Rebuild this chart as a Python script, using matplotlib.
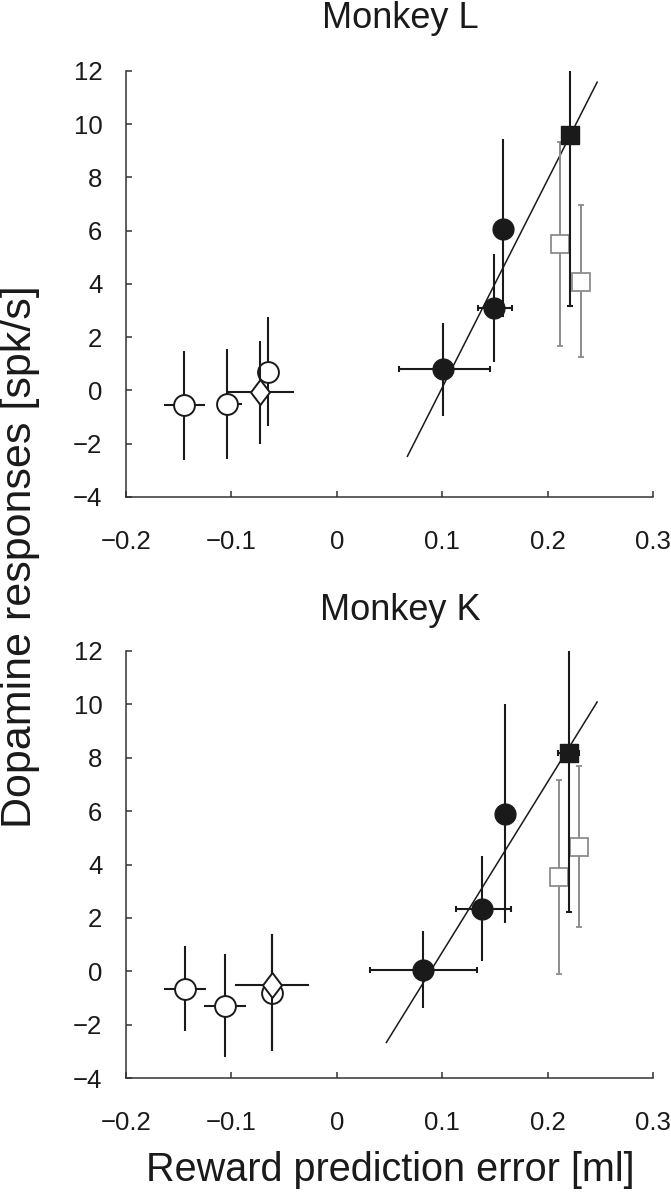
import matplotlib
matplotlib.use("Agg")
import matplotlib.pyplot as plt
import numpy as np
from matplotlib.path import Path

plt.rcParams["font.family"] = ["Liberation Sans", "DejaVu Sans"]

# ---- Monkey L ----
L_open_x = [-0.145, -0.104, -0.065]
L_open_y = [-0.56, -0.50, 0.71]
L_open_ylo = [-2.62, -2.56, -1.35]
L_open_yhi = [1.50, 1.56, 2.75]
L_open_xlo = [-0.164, -0.113, -0.065]
L_open_xhi = [-0.125, -0.090, -0.065]

L_dia_x = [-0.073]
L_dia_y = [-0.06]
L_dia_ylo = [-2.00]
L_dia_yhi = [1.87]
L_dia_xlo = [-0.104]
L_dia_xhi = [-0.041]

L_fill_x = [0.101, 0.149, 0.158]
L_fill_y = [0.79, 3.08, 6.06]
L_fill_ylo = [-0.94, 1.06, 2.75]
L_fill_yhi = [2.52, 5.12, 9.43]
L_fill_xlo = [0.059, 0.134, 0.158]
L_fill_xhi = [0.145, 0.166, 0.158]

L_sq_x = [0.2215]
L_sq_y = [9.59]
L_sq_ylo = [3.18]
L_sq_yhi = [16.0]

L_gray_x = [0.2115, 0.2318]
L_gray_y = [5.49, 4.09]
L_gray_ylo = [1.66, 1.25]
L_gray_yhi = [9.33, 6.97]

L_fit_x = [0.067, 0.247]
L_fit_y = [-2.47, 11.58]

# ---- Monkey K ----
K_open_x = [-0.144, -0.106, -0.0615]
K_open_y = [-0.65, -1.30, -0.81]
K_open_ylo = [-2.25, -3.21, -2.98]
K_open_yhi = [0.94, 0.64, 1.41]
K_open_xlo = [-0.164, -0.126, -0.0615]
K_open_xhi = [-0.124, -0.086, -0.0615]

K_dia_x = [-0.0615]
K_dia_y = [-0.52]
K_dia_ylo = [-2.98]
K_dia_yhi = [1.41]
K_dia_xlo = [-0.097]
K_dia_xhi = [-0.026]

K_fill_x = [0.082, 0.138, 0.1595]
K_fill_y = [0.06, 2.35, 5.91]
K_fill_ylo = [-1.37, 0.37, 1.81]
K_fill_yhi = [1.51, 4.32, 10.0]
K_fill_xlo = [0.0315, 0.113, 0.1595]
K_fill_xhi = [0.133, 0.165, 0.1595]

K_sq_x = [0.220]
K_sq_y = [8.17]
K_sq_ylo = [2.22]
K_sq_yhi = [14.1]
K_sq_xlo = [0.210]
K_sq_xhi = [0.230]

K_gray_x = [0.2104, 0.2301]
K_gray_y = [3.54, 4.66]
K_gray_ylo = [-0.09, 1.66]
K_gray_yhi = [7.15, 7.68]
K_gray_xlo = [0.2034, 0.2231]
K_gray_xhi = [0.2174, 0.2371]

K_fit_x = [0.047, 0.247]
K_fit_y = [-2.67, 10.09]

x_ticks = [-0.2, -0.1, 0, 0.1, 0.2, 0.3]
x_ticklabels = ["\u22120.2", "\u22120.1", "0", "0.1", "0.2", "0.3"]
y_ticks = [-4, -2, 0, 2, 4, 6, 8, 10, 12]
y_ticklabels = ["\u22124", "\u22122", "0", "2", "4", "6", "8", "10", "12"]

BLACK = "#1a1a1a"
GRAY = "#8c8c8c"

diamond = Path([(0, 1), (0.76, 0), (0, -1), (-0.76, 0), (0, 1)],
               [Path.MOVETO, Path.LINETO, Path.LINETO, Path.LINETO, Path.CLOSEPOLY])


def err(c, lo, hi):
    c = np.asarray(c, float)
    return np.vstack([c - np.asarray(lo, float), np.asarray(hi, float) - c])


def draw(ax, d):
    ax.plot(d["fit_x"], d["fit_y"], color=BLACK, lw=1.1, zorder=2)
    # gray open squares
    ax.errorbar(d["gray_x"], d["gray_y"], yerr=err(d["gray_y"], d["gray_ylo"], d["gray_yhi"]),
                xerr=d.get("gray_xerr"), fmt="s", ms=12.5, mfc="white", mec=GRAY, mew=1.3,
                ecolor=GRAY, elinewidth=1.4, capsize=2.5, capthick=1.2, zorder=3)
    # black square
    ax.errorbar(d["sq_x"], d["sq_y"], yerr=err(d["sq_y"], d["sq_ylo"], d["sq_yhi"]),
                xerr=d.get("sq_xerr"), fmt="s", ms=13.5, color=BLACK,
                elinewidth=1.5, capsize=2.5, capthick=1.5, zorder=4)
    # filled circles: vertical bars without caps, horizontal bars with small caps
    ax.errorbar(d["fill_x"], d["fill_y"],
                xerr=err(d["fill_x"], d["fill_xlo"], d["fill_xhi"]), fmt="none",
                ecolor=BLACK, elinewidth=1.5, capsize=2, capthick=1.5, zorder=4)
    ax.errorbar(d["fill_x"], d["fill_y"], yerr=err(d["fill_y"], d["fill_ylo"], d["fill_yhi"]),
                fmt="o", ms=15, color=BLACK, elinewidth=1.5, capsize=0, zorder=4)
    # open circles
    ax.errorbar(d["open_x"], d["open_y"], yerr=err(d["open_y"], d["open_ylo"], d["open_yhi"]),
                xerr=err(d["open_x"], d["open_xlo"], d["open_xhi"]), fmt="o", ms=15,
                mfc="white", mec=BLACK, mew=1.4, ecolor=BLACK, elinewidth=1.5,
                capsize=0, zorder=4)
    # diamond
    ax.errorbar(d["dia_x"], d["dia_y"], yerr=err(d["dia_y"], d["dia_ylo"], d["dia_yhi"]),
                xerr=err(d["dia_x"], d["dia_xlo"], d["dia_xhi"]), fmt="none",
                ecolor=BLACK, elinewidth=1.5, capsize=0, zorder=5)
    ax.plot(d["dia_x"], d["dia_y"], marker=diamond, ms=18, mfc="white", mec=BLACK,
            mew=1.4, ls="none", zorder=6)

    ax.set_xlim(-0.2, 0.3)
    ax.set_ylim(-4, 12)
    ax.set_xticks(x_ticks)
    ax.set_xticklabels(x_ticklabels)
    ax.set_yticks(y_ticks)
    ax.set_yticklabels(y_ticklabels)
    for s in ["top", "right"]:
        ax.spines[s].set_visible(False)
    for s in ["left", "bottom"]:
        ax.spines[s].set_linewidth(1.1)
        ax.spines[s].set_color("#333333")
    ax.tick_params(direction="in", length=4, width=1.1, color="#333333",
                   labelsize=18.5, labelcolor="#1a1a1a")
    ax.tick_params(axis="y", pad=17)
    ax.tick_params(axis="x", pad=24)


def main():
    fig = plt.figure(figsize=(6.71, 11.99), dpi=100)
    ax1 = fig.add_axes([126 / 671, 1 - 497 / 1199, 527 / 671, 426 / 1199])
    ax2 = fig.add_axes([126 / 671, 1 - 1078 / 1199, 527 / 671, 427 / 1199])

    dL = dict(open_x=L_open_x, open_y=L_open_y, open_ylo=L_open_ylo, open_yhi=L_open_yhi,
              open_xlo=L_open_xlo, open_xhi=L_open_xhi,
              dia_x=L_dia_x, dia_y=L_dia_y, dia_ylo=L_dia_ylo, dia_yhi=L_dia_yhi,
              dia_xlo=L_dia_xlo, dia_xhi=L_dia_xhi,
              fill_x=L_fill_x, fill_y=L_fill_y, fill_ylo=L_fill_ylo, fill_yhi=L_fill_yhi,
              fill_xlo=L_fill_xlo, fill_xhi=L_fill_xhi,
              sq_x=L_sq_x, sq_y=L_sq_y, sq_ylo=L_sq_ylo, sq_yhi=L_sq_yhi,
              gray_x=L_gray_x, gray_y=L_gray_y, gray_ylo=L_gray_ylo, gray_yhi=L_gray_yhi,
              fit_x=L_fit_x, fit_y=L_fit_y)
    dK = dict(open_x=K_open_x, open_y=K_open_y, open_ylo=K_open_ylo, open_yhi=K_open_yhi,
              open_xlo=K_open_xlo, open_xhi=K_open_xhi,
              dia_x=K_dia_x, dia_y=K_dia_y, dia_ylo=K_dia_ylo, dia_yhi=K_dia_yhi,
              dia_xlo=K_dia_xlo, dia_xhi=K_dia_xhi,
              fill_x=K_fill_x, fill_y=K_fill_y, fill_ylo=K_fill_ylo, fill_yhi=K_fill_yhi,
              fill_xlo=K_fill_xlo, fill_xhi=K_fill_xhi,
              sq_x=K_sq_x, sq_y=K_sq_y, sq_ylo=K_sq_ylo, sq_yhi=K_sq_yhi,
              sq_xerr=err(K_sq_x, K_sq_xlo, K_sq_xhi),
              gray_x=K_gray_x, gray_y=K_gray_y, gray_ylo=K_gray_ylo, gray_yhi=K_gray_yhi,
              gray_xerr=err(K_gray_x, K_gray_xlo, K_gray_xhi),
              fit_x=K_fit_x, fit_y=K_fit_y)
    draw(ax1, dL)
    draw(ax2, dK)

    fig.text(400 / 671, 1 - 28 / 1199, "Monkey L", ha="center", va="baseline",
             fontsize=26, color="#1a1a1a")
    fig.text(400 / 671, 1 - 620 / 1199, "Monkey K", ha="center", va="baseline",
             fontsize=26, color="#1a1a1a")
    fig.text(390 / 671, 1 - 1181 / 1199, "Reward prediction error [ml]", ha="center",
             va="baseline", fontsize=28.5, color="#1a1a1a")
    fig.text(0.0, 1 - 557 / 1199, "Dopamine responses [spk/s]", rotation=90,
             ha="left", va="center", fontsize=31, color="#1a1a1a")

    fig.savefig("out.png", dpi=100)


if __name__ == "__main__":
    main()
